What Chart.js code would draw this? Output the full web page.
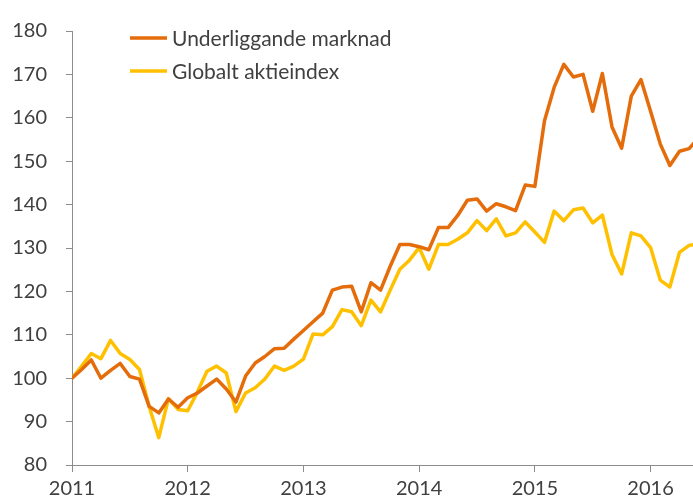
<!DOCTYPE html>
<html>
<head>
<meta charset="utf-8">
<script src="https://cdn.jsdelivr.net/npm/chart.js@4"></script>
<style>
  html, body { margin: 0; padding: 0; background: #fff; }
  #wrap { width: 693px; height: 500px; }
</style>
</head>
<body>
<div id="wrap"><canvas id="grafico" width="693" height="500"></canvas></div>
<script>
  // månadsdata jan 2011 -> 2016
  const serieNamn = ['Underliggande marknad', 'Globalt aktieindex'];
  const ar = ['2011', '2012', '2013', '2014', '2015', '2016'];
  const underliggande = [
    100, 102, 104.2, 100, 101.8, 103.4, 100.4, 99.8, 93.5, 92, 95.2, 93.3,
    95.5, 96.6, 98.2, 99.8, 97.5, 94.5, 100.5, 103.5, 105, 106.8, 106.9, 109,
    111, 113, 115, 120.3, 121, 121.2, 115.3, 122, 120.3, 125.8, 130.8, 130.8,
    130.3, 129.6, 134.7, 134.7, 137.5, 141, 141.3, 138.5, 140.2, 139.5, 138.6, 144.5,
    144.2, 159.3, 167, 172.3, 169.4, 170, 161.5, 170.2, 157.9, 153, 165, 168.8,
    161.5, 154, 149, 152.3, 152.9, 155.5
  ];
  const globalt = [
    100, 102.8, 105.7, 104.5, 108.7, 105.7, 104.3, 102, 93.5, 86.3, 95.3, 92.8,
    92.5, 96.8, 101.6, 102.8, 101.2, 92.3, 96.6, 97.8, 99.8, 102.8, 101.8, 102.8,
    104.4, 110.2, 110, 111.9, 115.8, 115.3, 112.1, 118, 115.3, 120.3, 125.1, 127.2,
    130.1, 125.1, 130.8, 130.8, 132, 133.5, 136.3, 134, 136.7, 132.8, 133.5, 136,
    133.7, 131.3, 138.5, 136.3, 138.8, 139.2, 135.8, 137.6, 128.5, 124, 133.5, 132.8,
    130.1, 122.6, 121, 129, 130.6, 131
  ];

  const farger = ['rgb(228, 108, 10)', 'rgb(255, 192, 0)'];
  const gra = '#8c8c8c';
  const textfarg = '#404040';
  const typsnitt = 'Lato, "Open Sans", sans-serif';

  // legend inne i diagramytan, uppe till vänster
  const legendPlugin = {
    id: 'legendInne',
    afterDraw(chart) {
      const ctx = chart.ctx;
      ctx.save();
      ctx.font = '21px ' + typsnitt;
      ctx.textBaseline = 'middle';
      chart.data.datasets.forEach((ds, i) => {
        const y = 38 + i * 33;
        ctx.strokeStyle = ds.borderColor;
        ctx.lineWidth = 3.5;
        ctx.beginPath();
        ctx.moveTo(130, y);
        ctx.lineTo(167, y);
        ctx.stroke();
        ctx.fillStyle = textfarg;
        ctx.fillText(ds.label, 172, y + 1);
      });
      ctx.restore();
    }
  };

  function punkter(serie) {
    return serie.map((v, i) => ({ x: i, y: v }));
  }

  const ctx = document.getElementById('grafico').getContext('2d');
  new Chart(ctx, {
    type: 'line',
    data: {
      datasets: [
        { label: serieNamn[0], data: punkter(underliggande), borderColor: farger[0], borderWidth: 3.5 },
        { label: serieNamn[1], data: punkter(globalt), borderColor: farger[1], borderWidth: 3.5 }
      ]
    },
    options: {
      responsive: false,
      animation: false,
      layout: { padding: { top: 26, right: 0, left: 0, bottom: 0 } },
      elements: {
        point: { radius: 0 },
        line: { tension: 0, borderJoinStyle: 'round', borderCapStyle: 'round' }
      },
      plugins: {
        legend: { display: false },
        tooltip: { enabled: false }
      },
      scales: {
        x: {
          type: 'linear',
          min: 0,
          max: 64.4,
          afterBuildTicks(scale) {
            scale.ticks = ar.map((a, i) => ({ value: i * 12 }));
          },
          afterFit(scale) { scale.height = 35; },
          grid: { drawOnChartArea: false, drawTicks: true, tickLength: 7, color: gra },
          border: { display: true, color: gra, width: 1 },
          ticks: {
            autoSkip: false,
            maxRotation: 0,
            padding: 5,
            color: textfarg,
            font: { family: typsnitt, size: 20 },
            callback: (v) => ar[Math.round(v / 12)]
          }
        },
        y: {
          min: 80,
          max: 180,
          afterFit(scale) { scale.width = 72; },
          grid: { drawOnChartArea: false, drawTicks: true, tickLength: 6, color: gra },
          border: { display: true, color: gra, width: 1 },
          ticks: {
            stepSize: 10,
            padding: 19,
            color: textfarg,
            font: { family: typsnitt, size: 20 }
          }
        }
      }
    },
    plugins: [legendPlugin]
  });
</script>
</body>
</html>
